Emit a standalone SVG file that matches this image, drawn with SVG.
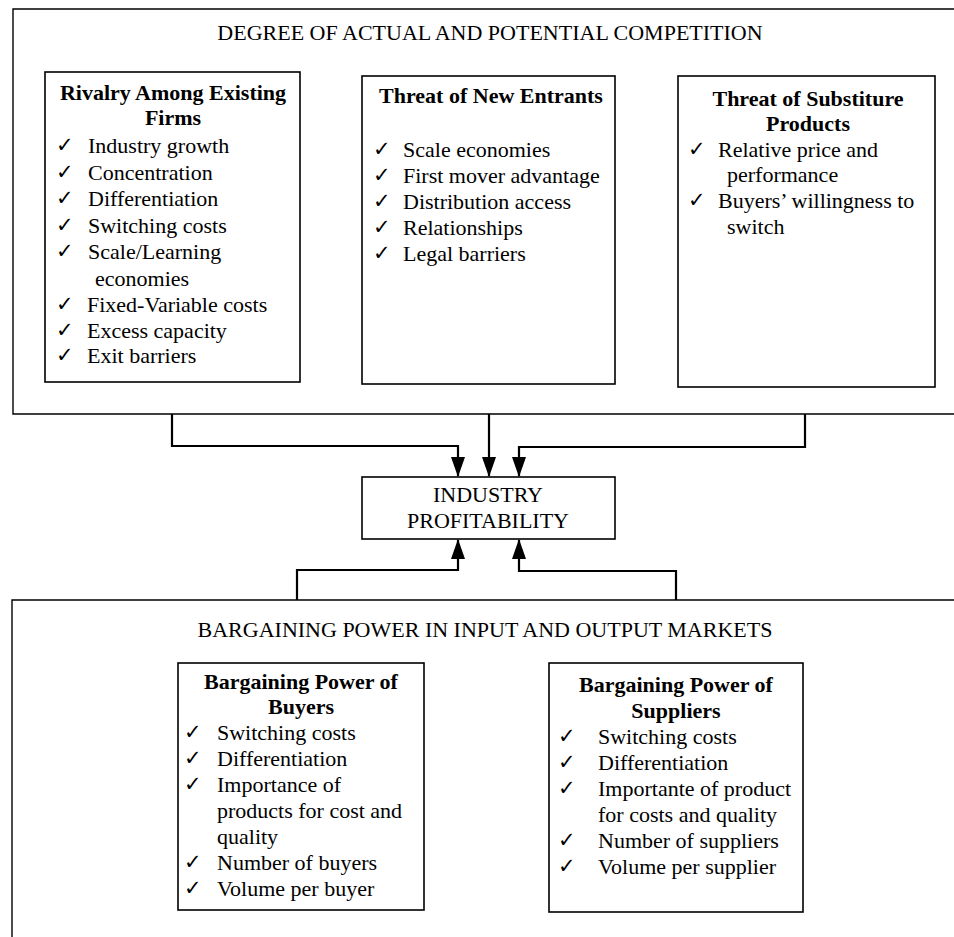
<svg xmlns="http://www.w3.org/2000/svg" width="954" height="937" viewBox="0 0 954 937">
<style>
text{font-family:"Liberation Serif","Times New Roman",serif;font-size:22px;fill:#000}
.b{font-weight:bold}
.m{text-anchor:middle}
text.ck{font-family:"DejaVu Sans",sans-serif;font-size:21px;font-weight:bold}
.box{fill:none;stroke:#000;stroke-width:1.6}
.frame{fill:none;stroke:#000;stroke-width:1.4}
.con{fill:none;stroke:#000;stroke-width:2.2}
</style>
<defs>
<marker id="ah" markerUnits="userSpaceOnUse" markerWidth="20" markerHeight="14" refX="19" refY="7" orient="auto" viewBox="0 0 20 14">
<path d="M0,0 L20,7 L0,14 Z" fill="#000"/>
</marker>
</defs>
<rect width="954" height="937" fill="#fff"/>

<g id="competition">
<path class="frame" d="M960,9 H13 V414 H960"/>
<text class="m" x="490" y="40">DEGREE OF ACTUAL AND POTENTIAL COMPETITION</text>
</g>

<g id="rivalry">
<rect class="box" x="45" y="72" width="255" height="310"/>
<text class="b m" x="173" y="100">Rivalry Among Existing</text>
<text class="b m" x="173" y="125">Firms</text>
<text class="ck" x="56" y="152">✓</text><text class="ck" x="56" y="179">✓</text><text class="ck" x="56" y="205">✓</text><text class="ck" x="56" y="232">✓</text><text class="ck" x="56" y="258">✓</text><text class="ck" x="56" y="311">✓</text><text class="ck" x="56" y="337">✓</text><text class="ck" x="56" y="362">✓</text>
<text x="88" y="153">Industry growth</text>
<text x="88" y="180">Concentration</text>
<text x="88" y="206">Differentiation</text>
<text x="88" y="233">Switching costs</text>
<text x="88" y="259">Scale/Learning</text>
<text x="95" y="286">economies</text>
<text x="87" y="312">Fixed-Variable costs</text>
<text x="87" y="338">Excess capacity</text>
<text x="87" y="363">Exit barriers</text>
</g>

<g id="entrants">
<rect class="box" x="362" y="76" width="253" height="308"/>
<text class="b m" x="491" y="103">Threat of New Entrants</text>
<text class="ck" x="373" y="156">✓</text><text class="ck" x="373" y="182">✓</text><text class="ck" x="373" y="208">✓</text><text class="ck" x="373" y="234">✓</text><text class="ck" x="373" y="260">✓</text>
<text x="403" y="157">Scale economies</text>
<text x="403" y="183">First mover advantage</text>
<text x="403" y="209">Distribution access</text>
<text x="403" y="235">Relationships</text>
<text x="403" y="261">Legal barriers</text>
</g>

<g id="substitutes">
<rect class="box" x="678" y="76" width="257" height="311"/>
<text class="b m" x="808" y="106">Threat of Substiture</text>
<text class="b m" x="808" y="131">Products</text>
<text class="ck" x="688" y="156">✓</text><text class="ck" x="688" y="207">✓</text>
<text x="718" y="157">Relative price and</text>
<text x="727" y="182">performance</text>
<text x="718" y="208">Buyers’ willingness to</text>
<text x="727" y="234">switch</text>
</g>

<g id="profitability">
<rect class="box" x="362" y="477" width="253" height="62"/>
<text class="m" x="488" y="502">INDUSTRY</text>
<text class="m" x="488" y="528">PROFITABILITY</text>
</g>

<g id="bargaining">
<path class="frame" d="M960,600 H12 V940"/>
<text class="m" x="485" y="637">BARGAINING POWER IN INPUT AND OUTPUT MARKETS</text>
</g>

<g id="buyers">
<rect class="box" x="178" y="663" width="246" height="247"/>
<text class="b m" x="301" y="689">Bargaining Power of</text>
<text class="b m" x="301" y="714">Buyers</text>
<text class="ck" x="184" y="739">✓</text><text class="ck" x="184" y="765">✓</text><text class="ck" x="184" y="791">✓</text><text class="ck" x="184" y="869">✓</text><text class="ck" x="184" y="895">✓</text>
<text x="217" y="740">Switching costs</text>
<text x="217" y="766">Differentiation</text>
<text x="217" y="792">Importance of</text>
<text x="217" y="818">products for cost and</text>
<text x="217" y="844">quality</text>
<text x="217" y="870">Number of buyers</text>
<text x="217" y="896">Volume per buyer</text>
</g>

<g id="suppliers">
<rect class="box" x="549" y="663" width="254" height="249"/>
<text class="b m" x="676" y="692">Bargaining Power of</text>
<text class="b m" x="676" y="718">Suppliers</text>
<text class="ck" x="558" y="743">✓</text><text class="ck" x="558" y="769">✓</text><text class="ck" x="558" y="795">✓</text><text class="ck" x="558" y="847">✓</text><text class="ck" x="558" y="873">✓</text>
<text x="598" y="744">Switching costs</text>
<text x="598" y="770">Differentiation</text>
<text x="598" y="796">Importante of product</text>
<text x="598" y="822">for costs and quality</text>
<text x="598" y="848">Number of suppliers</text>
<text x="598" y="874">Volume per supplier</text>
</g>

<g id="connectors">
<path class="con" d="M172,414 V446 H458 V476" marker-end="url(#ah)"/>
<path class="con" d="M489,414 V476" marker-end="url(#ah)"/>
<path class="con" d="M805,414 V447 H519 V476" marker-end="url(#ah)"/>
<path class="con" d="M297,600 V570 H458 V540" marker-end="url(#ah)"/>
<path class="con" d="M676,600 V571 H519 V540" marker-end="url(#ah)"/>
</g>
</svg>
